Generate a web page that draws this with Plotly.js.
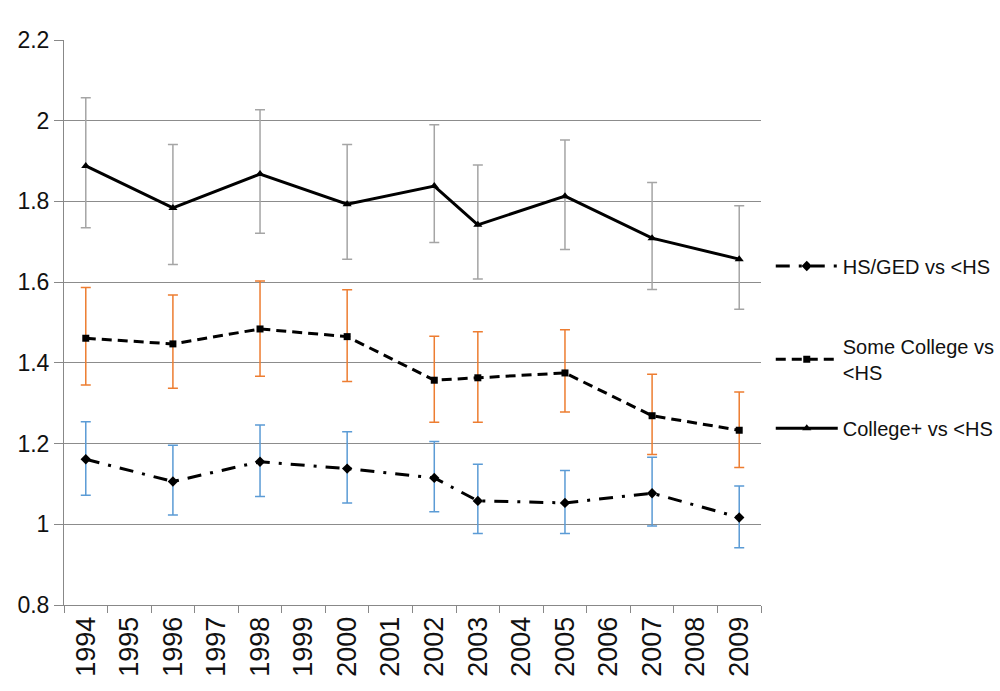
<html>
<head>
    <meta charset="UTF-8">
    <script src="https://cdn.plot.ly/plotly-3.0.1.min.js"></script>
    <style>
        body { margin: 0; background: #fff; }
        #plot { width: 1000px; height: 691px; }
    </style>
</head>
<body>
    <div id="plot"></div>

    <script>
        // all category labels on the x axis
        const years = ['1994', '1995', '1996', '1997', '1998', '1999', '2000', '2001',
            '2002', '2003', '2004', '2005', '2006', '2007', '2008', '2009'];
        // years that have measurements
        const dataYears = ['1994', '1996', '1998', '2000', '2002', '2003', '2005', '2007', '2009'];

        const hsGed = [1.161, 1.106, 1.155, 1.138, 1.115, 1.058, 1.053, 1.077, 1.017];
        const hsGedHi = [1.254, 1.196, 1.246, 1.229, 1.205, 1.149, 1.133, 1.166, 1.095];
        const hsGedLo = [1.072, 1.023, 1.069, 1.053, 1.031, 0.977, 0.977, 0.996, 0.942];

        const someCol = [1.461, 1.447, 1.484, 1.465, 1.357, 1.363, 1.375, 1.269, 1.233];
        const someColHi = [1.587, 1.568, 1.603, 1.581, 1.466, 1.477, 1.482, 1.372, 1.328];
        const someColLo = [1.345, 1.337, 1.367, 1.354, 1.253, 1.253, 1.278, 1.173, 1.141];

        const colPlus = [1.888, 1.784, 1.868, 1.793, 1.838, 1.742, 1.813, 1.709, 1.657];
        const colPlusHi = [2.057, 1.941, 2.027, 1.941, 1.990, 1.890, 1.952, 1.847, 1.789];
        const colPlusLo = [1.735, 1.644, 1.721, 1.657, 1.698, 1.608, 1.681, 1.582, 1.533];

        const yTicks = [0.8, 1, 1.2, 1.4, 1.6, 1.8, 2, 2.2];

        function errBars(vals, hi, lo, color) {
            return {
                type: 'data',
                symmetric: false,
                array: vals.map((v, i) => hi[i] - v),
                arrayminus: vals.map((v, i) => v - lo[i]),
                color: color,
                thickness: 1.5,
                width: 5
            };
        }

        const trace1 = {
            x: dataYears,
            y: hsGed,
            name: 'HS/GED vs <HS',
            type: 'scatter',
            mode: 'lines+markers',
            line: { color: '#000', width: 3, dash: '14px,9px,3px,9px' },
            marker: { symbol: 'diamond', size: 8, color: '#000' },
            error_y: errBars(hsGed, hsGedHi, hsGedLo, '#5b9bd5'),
            legend: 'legend'
        };

        const trace2 = {
            x: dataYears,
            y: someCol,
            name: 'Some College vs<br><HS',
            type: 'scatter',
            mode: 'lines+markers',
            line: { color: '#000', width: 3, dash: '10px,6px' },
            marker: { symbol: 'square', size: 7, color: '#000' },
            error_y: errBars(someCol, someColHi, someColLo, '#ed7d31'),
            legend: 'legend2'
        };

        const trace3 = {
            x: dataYears,
            y: colPlus,
            name: 'College+ vs <HS',
            type: 'scatter',
            mode: 'lines+markers',
            line: { color: '#000', width: 3 },
            marker: { symbol: 'triangle-up', size: 8, color: '#000' },
            error_y: errBars(colPlus, colPlusHi, colPlusLo, '#a5a5a5'),
            legend: 'legend3'
        };

        const legendBase = {
            xanchor: 'left',
            yanchor: 'middle',
            x: 1.014,
            bgcolor: 'rgba(0,0,0,0)',
            font: { family: 'Liberation Sans, Arial, sans-serif', size: 20, color: '#111' },
            itemwidth: 62
        };

        const layout = {
            width: 1000,
            height: 691,
            margin: { l: 64, r: 239, t: 40, b: 86, autoexpand: false },
            paper_bgcolor: '#fff',
            plot_bgcolor: '#fff',
            font: { family: 'Liberation Sans, Arial, sans-serif', color: '#111' },
            showlegend: true,
            legend: Object.assign({}, legendBase, { y: 0.6 }),
            legend2: Object.assign({}, legendBase, { y: 0.435 }),
            legend3: Object.assign({}, legendBase, { y: 0.313 }),
            xaxis: {
                type: 'category',
                categoryorder: 'array',
                categoryarray: years,
                tickvals: years,
                range: [-0.5, years.length - 0.5],
                tickson: 'boundaries',
                ticks: 'outside',
                ticklen: 7,
                tickcolor: '#888',
                tickangle: -90,
                tickfont: { size: 27, color: '#111' },
                showgrid: false,
                showline: true,
                linecolor: '#888',
                linewidth: 1,
                zeroline: false
            },
            yaxis: {
                range: [0.8, 2.2],
                tickvals: yTicks,
                ticks: 'outside',
                ticklen: 9,
                tickcolor: '#888',
                tickfont: { size: 23, color: '#111' },
                showgrid: true,
                gridcolor: '#8c8c8c',
                gridwidth: 1,
                showline: true,
                linecolor: '#888',
                linewidth: 1,
                zeroline: false
            }
        };

        Plotly.newPlot('plot', [trace1, trace2, trace3], layout, { staticPlot: true });
    </script>
</body>
</html>
